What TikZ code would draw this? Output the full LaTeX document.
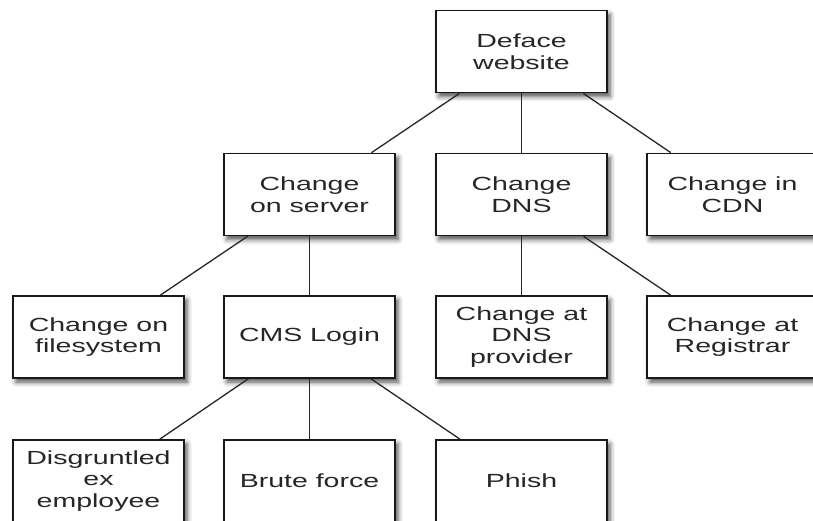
\documentclass[tikz,border=0pt]{standalone}
\usepackage{fontspec}
\setmainfont{Liberation Sans}[FakeStretch=1.5]
\usetikzlibrary{shadows.blur}
\begin{document}
\begin{tikzpicture}[x=1pt,y=-1pt,
  goal/.style={draw=black!90, line width=1.7pt, fill=white,
    minimum width=171pt, minimum height=82pt, inner sep=2pt,
    align=center, text=black!85,
    font=\fontsize{19}{21.5}\selectfont,
    blur shadow={shadow xshift=3pt, shadow yshift=-4pt,
      shadow blur radius=5pt, shadow opacity=70}},
  link/.style={draw=black!85, line width=1.3pt}]
\useasboundingbox (0,0) rectangle (813,521);

% attack tree nodes
\node[goal] (deface) at (521.5,51.5) {Deface\\website};
\node[goal] (server) at (309.5,194.5) {Change\\on server};
\node[goal] (dns)    at (521.5,194.5) {Change\\DNS};
\node[goal] (cdn)    at (732.5,194.5) {Change in\\CDN};
\node[goal] (fs)     at (98.5,337) {Change on\\filesystem};
\node[goal] (cms)    at (309.5,337) {CMS Login};
\node[goal] (dnsprov) at (521.5,337) {Change at\\DNS\\provider};
\node[goal] (registrar) at (732.5,337) {Change at\\Registrar};
\node[goal] (insider) at (98.5,481) {Disgruntled\\ex\\employee};
\node[goal] (brute)  at (309.5,481) {Brute force};
\node[goal] (phish)  at (521.5,481) {Phish};

% tree edges
\draw[link] (deface) -- (server);
\draw[link] (deface) -- (dns);
\draw[link] (deface) -- (cdn);
\draw[link] (server) -- (fs);
\draw[link] (server) -- (cms);
\draw[link] (dns) -- (dnsprov);
\draw[link] (dns) -- (registrar);
\draw[link] (cms) -- (insider);
\draw[link] (cms) -- (brute);
\draw[link] (cms) -- (phish);
\end{tikzpicture}
\end{document}
